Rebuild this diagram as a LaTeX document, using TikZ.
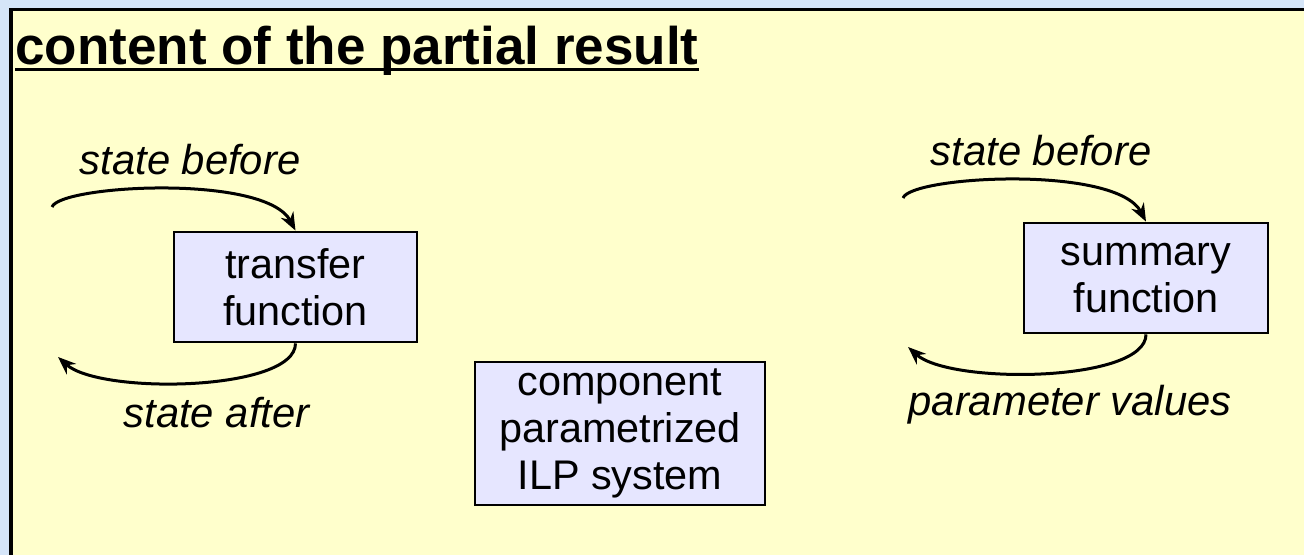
\documentclass[tikz,border=0pt]{standalone}
\usepackage{fontspec}
\setmainfont{Liberation Sans}
\usetikzlibrary{arrows.meta}

\definecolor{slidebg}{HTML}{D5E5F8}
\definecolor{panelbg}{HTML}{FFFFCC}
\definecolor{boxbg}{HTML}{E6E6FF}

\tikzset{
  fnbox/.style={draw=black, line width=1.4pt, fill=boxbg, inner sep=0pt,
    align=center, font=\fontsize{20.7}{23.7}\selectfont},
  flowlabel/.style={inner sep=0pt, anchor=base, font=\fontsize{20.9}{24}\selectfont\itshape},
  flow/.style={line width=1.5pt, -{Stealth[length=9pt,width=7pt]}},
}

\begin{document}
\begin{tikzpicture}[x=0.5pt, y=-0.5pt]
  \useasboundingbox (0,0) rectangle (1304,555);
  \clip (0,0) rectangle (1304,555);

  % slide background and the yellow panel
  \fill[slidebg] (0,0) rectangle (1304,555);
  \fill[panelbg] (11,9.5) rectangle (1304,555);
  \draw[line width=1.6pt] (11,560) -- (11,9.5) -- (1310,9.5);

  % heading
  \node[inner sep=0pt, anchor=base west, font=\fontsize{26.5}{30}\selectfont\bfseries]
    (title) at (15,65) {content of the partial result};
  \draw[line width=1.7pt] ([yshift=-2.4pt]title.base west) -- ([yshift=-2.4pt]title.base east);

  % function boxes
  \node[fnbox, minimum width=121.5pt, minimum height=55pt] (tf) at (295.5,287)
    {transfer\\function};
  \node[fnbox, minimum width=122pt, minimum height=55pt] (sf) at (1146,278)
    {summary\\function};
  \node[fnbox, minimum width=145pt, minimum height=71.5pt] (ilp) at (620,433.5)
    {component\\parametrized\\ILP system};

  % free ends of the loops
  \coordinate (tfin)  at (52,207);
  \coordinate (tfout) at (58,357);
  \coordinate (sfin)  at (903,198);
  \coordinate (sfout) at (908,347);

  % loops round the transfer function
  \draw[flow] (tfin) .. controls +(8,-22) and +(-30,-57) .. (tf.north);
  \draw[flow] (tf.south) .. controls +(0,48) and +(42,38) .. (tfout);

  % loops round the summary function
  \draw[flow] (sfin) .. controls +(8,-22) and +(-30,-57) .. (sf.north);
  \draw[flow] (sf.south) .. controls +(0,48) and +(42,38) .. (sfout);

  % loop labels
  \node[flowlabel] (lbl1) at (190,175) {state before};
  \node[flowlabel] (lbl2) at (216.5,427) {state after};
  \node[flowlabel] (lbl3) at (1041,166) {state before};
  \node[flowlabel] (lbl4) at (1070,415) {parameter values};
\end{tikzpicture}
\end{document}
